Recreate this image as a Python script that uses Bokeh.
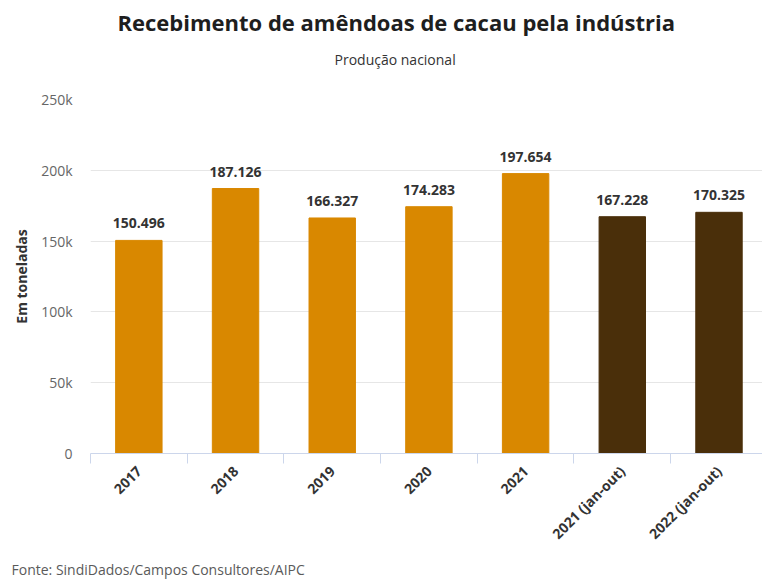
from bokeh.plotting import figure
from bokeh.models import ColumnDataSource, FixedTicker, Title, Range1d
from bokeh.core.properties import value
from bokeh.embed import file_html
from bokeh.resources import INLINE

categories = ["2017", "2018", "2019", "2020", "2021", "2021 (jan-out)", "2022 (jan-out)"]
values = [150496, 187126, 166327, 174283, 197654, 167228, 170325]
colors = ["#D98800", "#D98800", "#D98800", "#D98800", "#D98800", "#4A2F0A", "#4A2F0A"]
y_ticks = [0, 50000, 100000, 150000, 200000, 250000]
y_tick_labels = ["0", "50k", "100k", "150k", "200k", "250k"]

FONT = "Open Sans"

xs = [i + 0.5 for i in range(len(categories))]
labels = [f"{v/1000:.3f}" for v in values]
src = ColumnDataSource(dict(x=xs, top=values, color=colors, label=labels))

# the reference crops the last category slightly at the right edge
p = figure(width=762, height=586, output_backend="svg", toolbar_location=None,
           x_range=Range1d(0, 6.95), y_range=Range1d(0, 250000),
           min_border_left=90, min_border_right=0, min_border_top=99, min_border_bottom=133)
p.outline_line_color = None
p.background_fill_color = "white"

p.vbar(x="x", top="top", width=0.48, color="color", source=src)
p.text(x="x", y="top", text="label", source=src, y_offset=-12,
       text_align="center", text_baseline="bottom",
       text_font=value(FONT), text_font_style="bold", text_font_size="14px", text_color="#333333")

# title & subtitle
p.title.text = "Recebimento de amêndoas de cacau pela indústria"
p.title.align = "left"
p.title.offset = 27
p.title.standoff = 2
p.title.text_font = FONT
p.title.text_font_size = "22px"
p.title.text_font_style = "bold"
p.title.text_color = "#1e1e1e"
# spacer between subtitle and plot area
p.add_layout(Title(text=" ", standoff=18, text_font_size="1px"), "above")
p.add_layout(Title(text="Produção nacional", align="left", offset=244, standoff=20,
                   text_font=FONT, text_font_size="14px", text_font_style="normal",
                   text_color="#333333"), "above")
p.add_layout(Title(text="Fonte: SindiDados/Campos Consultores/AIPC", align="left", offset=-79,
                   standoff=11, text_font=FONT, text_font_size="14px", text_font_style="normal",
                   text_color="#5a5a5a"), "below")

# y axis
p.yaxis.ticker = FixedTicker(ticks=y_ticks)
p.yaxis.major_label_overrides = {t: l for t, l in zip(y_ticks, y_tick_labels)}
p.yaxis.axis_line_color = None
p.yaxis.major_tick_line_color = None
p.yaxis.minor_tick_line_color = None
p.yaxis.major_label_standoff = 12
p.yaxis.major_label_text_font = FONT
p.yaxis.major_label_text_font_size = "14px"
p.yaxis.major_label_text_color = "#666666"
p.yaxis.axis_label = "Em toneladas"
p.yaxis.axis_label_standoff = 7
p.yaxis.axis_label_text_font = FONT
p.yaxis.axis_label_text_font_size = "14px"
p.yaxis.axis_label_text_font_style = "bold"
p.yaxis.axis_label_text_color = "#333333"
p.ygrid.ticker = FixedTicker(ticks=y_ticks)
p.ygrid.grid_line_color = "#e6e6e6"

# x axis
p.xaxis.ticker = FixedTicker(ticks=xs, minor_ticks=list(range(len(categories) + 1)))
p.xaxis.major_label_overrides = {x: c for x, c in zip(xs, categories)}
p.xaxis.major_label_orientation = 0.785
p.xaxis.major_label_standoff = 5
p.xaxis.major_tick_line_color = None
p.xaxis.minor_tick_line_color = "#ccd6eb"
p.xaxis.minor_tick_in = 0
p.xaxis.minor_tick_out = 10
p.xaxis.axis_line_color = "#ccd6eb"
p.xaxis.major_label_text_font = FONT
p.xaxis.major_label_text_font_size = "14px"
p.xaxis.major_label_text_font_style = "bold"
p.xaxis.major_label_text_color = "#333333"
p.xgrid.grid_line_color = None

open("out.html", "w").write(file_html(p, INLINE))
